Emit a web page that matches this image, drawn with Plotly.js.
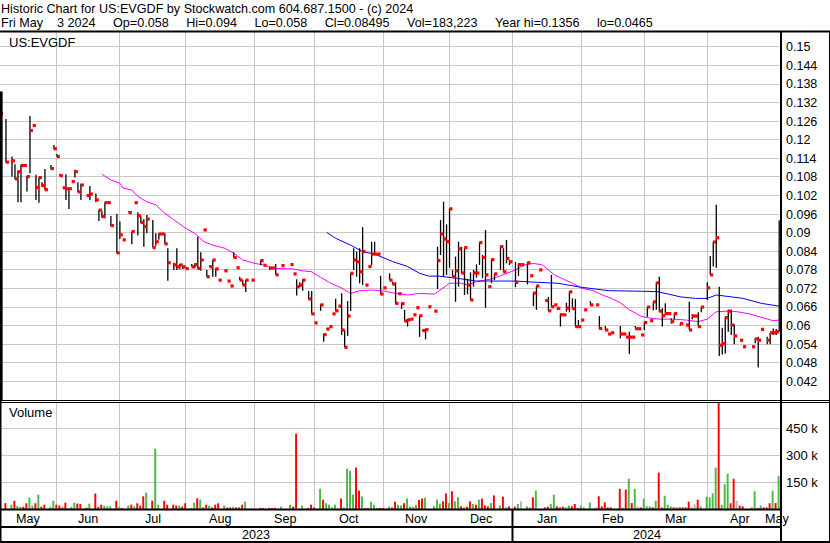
<!DOCTYPE html>
<html><head><meta charset="utf-8">
<script src="https://cdn.plot.ly/plotly-3.0.1.min.js"></script>
<style>html,body{margin:0;padding:0;background:#fff;}#chart{width:830px;height:543px;}</style>
</head><body><div id="chart"></div>
<script>
const _ = null;
const symbol = 'US:EVGDF';
const startDate = '2023-05-05';           // first weekday slot shown
const lastOpen = 0.058;
const monthNames = ['Jan','Feb','Mar','Apr','May','Jun','Jul','Aug','Sep','Oct','Nov','Dec'];
const dayNames = ['Sun','Mon','Tue','Wed','Thu','Fri','Sat'];

// one entry per weekday from startDate (null = no trade)
const high = [
  /* May */ .1356,_,.1267,_,.1146,.1121,.1100,.1119,_,.1083,.1277,_,.1087,.1079,.1063,.1106,_,.1119,.1183,
  /* Jun */ .1154,.1090,_,.1089,.1042,_,.1103,.1063,.1058,_,_,.1051,_,.1027,.0973,.0970,.0998,_,.0954,_,.0961,.0936,
  /* Jul */ _,_,.0970,.0904,_,.0966,.0955,.0944,.0957,_,.0941,.0898,.0898,_,.0898,.0850,_,.0803,.0850,.0799,.0793,
  /* Aug */ _,_,.0799,.0801,.0887,.0837,_,.0780,.0796,.0812,.0785,_,_,.0780,_,_,.0836,_,.0758,.0747,.0747,_,_,
  /* Sep */ _,_,.0812,_,_,.0790,_,.0799,_,_,_,_,_,_,.0750,.0740,.0750,_,.0712,.0712,_,
  /* Oct */ _,.0669,.0573,.0591,_,_,.0687,_,.0705,.0586,.0679,.0769,.0850,.0839,.0850,.0918,_,_,.0871,.0871,_,.0761,
  /* Nov */ _,_,.0769,.0742,.0740,_,.0674,.0651,.0621,_,_,_,.0632,.0588,.0588,_,_,_,.0855,.0941,.1000,.0927,
  /* Dec */ .0979,.0780,.0823,.0871,.0855,.0852,.0751,.0772,.0780,.0798,.0869,.0828,.0909,_,.0815,.0769,_,.0858,.0850,.0877,.0812,
  /* Jan */ _,.0805,.0801,_,_,.0805,_,.0709,.0728,_,_,_,.0693,.0764,_,.0659,.0640,_,.0674,.0712,.0688,.0686,.0618,
  /* Feb */ _,_,_,.0679,_,_,.0631,_,.0599,_,_,_,_,.0599,_,_,.0580,_,.0599,_,_,
  /* Mar */ .0613,.0661,_,.0677,.0740,.0758,.0656,.0672,_,.0624,.0639,_,.0607,_,_,.0677,.0637,_,.0643,.0661,_,
  /* Apr */ .0740,.0825,.0871,.0990,.0726,.0593,.0629,.0651,.0651,.0604,_,_,_,_,_,_,.0559,.0564,_,_,.0564,.0577,
  /* May */ .0591,.0589,.0940
];
const low = [
  /* May */ .1240,_,.1127,_,.1081,.1073,.0998,.0998,_,.1033,.1092,_,.1006,.0997,.1049,.1038,_,.1106,.1170,
  /* Jun */ .1146,.1084,_,.1006,.0977,_,.1078,.1031,.1006,_,_,.1006,_,.0998,.0938,.0949,.0947,_,.0922,_,.0834,.0880,
  /* Jul */ _,_,.0965,.0863,_,.0891,.0931,.0855,.0898,_,.0852,.0858,.0877,_,.0864,.0745,_,.0780,.0780,.0782,.0783,
  /* Aug */ _,_,.0790,.0785,.0784,.0777,_,.0758,.0790,.0758,.0758,_,_,.0777,_,_,.0820,_,.0747,.0731,.0709,_,_,
  /* Sep */ _,_,.0795,_,_,.0780,_,.0764,_,_,_,_,_,_,.0697,.0725,.0713,_,.0685,.0638,_,
  /* Oct */ _,.0648,.0548,.0589,_,_,.0648,_,.0570,.0530,.0567,.0647,.0780,.0758,.0737,.0731,_,_,.0796,.0828,_,.0702,
  /* Nov */ _,_,.0747,.0734,.0669,_,.0654,.0615,.0597,_,_,_,.0564,.0584,.0556,_,_,_,.0718,.0828,.0758,.0764,
  /* Dec */ .0787,.0758,.0677,.0726,.0769,.0699,.0701,.0683,.0726,.0755,.0796,.0753,.0658,_,.0737,.0747,_,.0780,.0774,.0801,.0796,
  /* Jan */ _,.0724,.0760,_,_,.0733,_,.0663,.0651,_,_,_,.0647,.0661,_,.0651,.0597,_,.0645,.0643,.0655,.0597,.0597,
  /* Feb */ _,_,_,.0665,_,_,.0589,_,.0586,_,_,_,_,.0559,_,_,.0508,_,.0590,_,_,
  /* Mar */ .0586,.0629,_,.0650,.0651,.0645,.0597,.0634,_,.0607,.0620,_,.0600,_,_,.0586,.0621,_,.0597,.0643,_,
  /* Apr */ .0683,.0764,.0791,.0787,.0502,.0507,.0510,.0580,.0570,.0540,_,_,_,_,_,_,.0543,.0465,_,_,.0540,.0540,
  /* May */ .0570,.0570,.0580
];
const close = [
  /* May */ .1284,_,.1128,_,.1132,.1074,.1097,.1117,.1117,.1081,.1230,.1246,.1046,.1078,.1052,.1039,_,.1107,.1171,
  /* Jun */ .1146,.1084,.1045,.1042,.1042,.1065,.1097,.1032,.1054,_,.1020,.1025,_,.1006,.0973,.0952,.0997,.0997,.0923,_,.0835,.0893,
  /* Jul */ .0877,_,.0965,.0904,.0997,.0955,.0933,.0920,.0944,_,.0852,.0871,.0896,.0896,.0864,.0803,_,.0796,.0790,.0796,.0790,
  /* Aug */ .0784,_,.0790,.0797,.0785,.0812,.0909,.0758,.0790,.0812,.0783,.0747,_,.0777,.0744,.0728,.0820,.0787,.0747,.0731,.0747,_,.0747,
  /* Sep */ _,_,.0810,.0795,_,.0786,.0786,.0764,_,.0794,_,_,.0797,.0767,.0726,.0731,.0747,_,.0686,.0638,.0609,
  /* Oct */ _,.0667,.0571,.0589,.0597,.0638,.0648,.0663,.0586,.0530,.0631,.0769,.0812,.0806,.0774,.0839,.0731,.0791,.0831,.0831,.0831,.0702,
  /* Nov */ .0722,_,.0747,.0734,.0672,.0703,.0671,.0615,.0619,.0621,.0635,.0658,.0632,.0584,.0587,.0661,_,.0647,.0810,.0896,.0880,.0871,
  /* Dec */ .0977,.0758,.0777,.0848,.0770,.0852,.0731,.0683,.0770,.0770,.0868,.0820,.0764,.0726,.0813,.0767,_,.0855,.0774,.0817,.0806,
  /* Jan */ _,.0740,.0797,.0797,_,.0803,.0761,.0705,.0728,.0780,_,.0681,.0648,.0661,.0667,.0656,.0635,.0635,.0657,.0709,.0655,.0597,.0597,
  /* Feb */ .0618,.0651,_,.0667,_,.0667,.0591,_,.0586,.0573,.0577,_,_,.0573,.0573,.0563,.0563,.0563,.0590,.0590,.0570,
  /* Mar */ .0610,.0660,.0616,.0677,.0738,.0647,.0632,.0639,.0639,.0613,.0639,_,.0607,_,.0602,.0586,.0631,.0631,.0597,.0660,_,
  /* Apr */ .0722,.0764,.0870,.0884,.0537,.0542,.0626,.0647,.0602,.0567,_,.0553,.0532,_,_,.0532,.0557,.0553,.0588,_,.0553,.0577,
  /* May */ .0577,.0580,.08495
];
// volume in thousands of shares
const volumeK = [
  /* May */ _,_,33,_,24,46,17,11,13,32,63,19,32,80,13,24,_,13,46,
  /* Jun */ 24,19,9,35,6,11,35,30,28,_,7,30,_,86,11,24,19,15,15,_,46,13,
  /* Jul */ 6,_,19,24,15,32,19,71,91,_,46,336,24,_,46,24,_,24,19,19,13,
  /* Aug */ 32,_,6,35,60,52,9,24,19,9,24,32,_,19,9,9,13,9,9,24,41,_,6,
  /* Sep */ _,_,6,6,_,6,6,6,_,13,_,_,24,13,420,_,19,_,6,24,9,
  /* Oct */ _,113,52,32,24,9,24,_,58,9,225,214,80,231,102,69,6,6,41,24,6,6,
  /* Nov */ 6,_,13,9,41,24,19,32,58,13,13,24,50,58,63,_,_,15,52,30,43,87,
  /* Dec */ 33,99,43,65,15,9,13,43,28,24,52,58,20,15,33,76,_,20,69,9,15,
  /* Jan */ _,13,28,43,_,15,9,65,102,_,_,9,13,28,80,15,9,13,9,19,15,28,6,
  /* Feb */ 19,9,_,37,_,9,71,15,37,9,9,_,_,113,9,108,169,33,113,15,9,
  /* Mar */ 58,15,15,9,46,203,9,74,24,15,9,9,9,9,9,41,9,26,52,15,_,
  /* Apr */ 69,65,87,230,640,24,138,197,32,169,46,19,15,_,_,9,99,6,19,9,9,32,
  /* May */ 102,33,183.223
];
// volume bar direction: u = up, d = down, n = unchanged
const volumeDir = [
  /* May */ _,_,'d',_,'u','d','u','u','d','d','u','u','d','u','d','d',_,'u','u',
  /* Jun */ 'd','d','d','d','n','u','u','d','d',_,'d','u',_,'d','d','d','u','u','u',_,'d','u',
  /* Jul */ 'd',_,'u','d','u','d','d','d','u',_,'d','u','u',_,'d','d',_,'d','d','u','d',
  /* Aug */ 'd',_,'u','u','d','u','d','d','u','d','d','d',_,'u','d','d','u','d','d','d','u',_,'n',
  /* Sep */ _,_,'d','d',_,'d','d','d',_,'u',_,_,'u','d','d',_,'u',_,'d','d','d',
  /* Oct */ _,'u','d','u','u','u','u',_,'d','u','u','u','u','d','d','u','d','d','u','u','u','d',
  /* Nov */ 'd',_,'u','d','d','u','u','d','u','u','u','u','d','d','u',_,_,'u','u','u','d','d',
  /* Dec */ 'u','d','u','u','d','u','d','d','u','d','u','d','d','d','u','d',_,'u','d','u','d',
  /* Jan */ _,'d','u','n',_,'u','u','d','u',_,_,'d','d','u','u','d','d','d','u','u','d','d','d',
  /* Feb */ 'u','u',_,'u',_,'n','d','d','d','d','d',_,_,'d','n','d','u','d','u','n','d',
  /* Mar */ 'u','u','u','d','u','d','d','u','u','u','d','u','d','d','d','d','u','n','d','u',_,
  /* Apr */ 'u','u','u','u','d','u','u','u','d','d','n','d','d',_,_,'u','u','d','u','d','d','d',
  /* May */ 'u','d','u'
];
// moving averages (weekday slot, value)
const maShortSlot = [34,37,40,41,44,46,49,52,55,58,62,65,68,71,75,78,81,85,88,91,95,98,101,104,107,110,114,117,120,124,128,131,136,140,145,147,150,154,156,159,164,167,170,172,175,178,181,183,185,188,191,194,198,201,204,207,210,214,217,220,225,229,233,236,239,243,246,250,254,258,260];
const maShortVal = [.1089,.1070,.1060,.1044,.1038,.1017,.1000,.0990,.0963,.0941,.0914,.0898,.0871,.0860,.0850,.0834,.0812,.0801,.0796,.0785,.0785,.0783,.0777,.0774,.0756,.0739,.0721,.0704,.0713,.0715,.0712,.0706,.0699,.0704,.0702,.0715,.0737,.0737,.0731,.0742,.0751,.0761,.0772,.0780,.0796,.0801,.0796,.0780,.0764,.0750,.0737,.0721,.0713,.0699,.0688,.0674,.0651,.0630,.0624,.0621,.0621,.0618,.0613,.0621,.0645,.0647,.0645,.0638,.0627,.0616,.0618];
const maLongSlot = [109,112,117,121,125,128,131,136,140,143,146,151,156,159,165,172,179,186,194,200,203,214,219,223,227,232,236,239,244,248,254,260];
const maLongVal = [.0901,.0882,.0860,.0839,.0831,.0819,.0807,.0791,.0769,.0760,.0760,.0755,.0747,.0744,.0744,.0744,.0740,.0737,.0724,.0717,.0713,.0711,.0710,.0702,.0693,.0688,.0688,.0699,.0693,.0688,.0672,.0663];

const priceTickLabels = ['0.15','0.144','0.138','0.132','0.126','0.12','0.114','0.108','0.102','0.096','0.09','0.084','0.078','0.072','0.066','0.06','0.054','0.048','0.042'];
const volumeTickValsK = [150, 300, 450];
const volumeTickLabels = ['150 k','300 k','450 k'];

// ---------- build ----------
const N = close.length;
const dates = [];
{ const d = new Date(startDate + 'T00:00:00Z');
  while (dates.length < N) { const wd = d.getUTCDay(); if (wd !== 0 && wd !== 6) dates.push(new Date(d)); d.setUTCDate(d.getUTCDate() + 1); } }

const W = 830, H = 543;
const fx = p => p / W, fy = p => 1 - p / H;
const FONT = "'Liberation Sans', Arial, sans-serif";
const xRange = [0, N - 0.4];
const priceRange = [0.0360, 0.1548];
const volRange = [0, 591000];
const grid = '#c8c8c8';

// bar segments
const segX = [], segY = [];
for (let i = 0; i < N; i++) if (high[i] != null && low[i] != null) { segX.push(i, i, null); segY.push(high[i], low[i], null); }
const cX = [], cY = [];
for (let i = 0; i < N; i++) if (close[i] != null) { cX.push(i + 0.45); cY.push(close[i]); }
const vX = [], vY = [], vC = [];
const dirColor = {u: '#4cb848', d: '#ff0000', n: '#b4b4b4'};
for (let i = 0; i < N; i++) if (volumeK[i] != null) { vX.push(i); vY.push(Math.round(volumeK[i] * 1000)); vC.push(dirColor[volumeDir[i]] || '#b4b4b4'); }

// month boundaries (1st of month mapped to last weekday on/before it)
const monthBounds = [];
{ const f = dates[0], l = dates[N - 1];
  let y = f.getUTCFullYear(), m = f.getUTCMonth() + 1;
  while (true) {
    if (m > 11) { m = 0; y++; }
    const ms = Date.UTC(y, m, 1);
    if (ms > l.getTime()) break;
    let idx = -1; for (let i = 0; i < N; i++) if (dates[i].getTime() <= ms) idx = i;
    monthBounds.push({idx, month: m, year: y});
    m++;
  } }
const gridVals = monthBounds.filter(b => b.idx < N - 4).map(b => b.idx);
const labelAnn = [];
{ const edges = [xRange[0], ...monthBounds.map(b => b.idx), xRange[1]];
  const names = [monthNames[dates[0].getUTCMonth()], ...monthBounds.map(b => monthNames[b.month])];
  for (let k = 0; k < names.length; k++) labelAnn.push({text: names[k], xref: 'x2', yref: 'paper', x: (edges[k] + edges[k + 1]) / 2, y: fy(518.5), xanchor: 'center', yanchor: 'middle', showarrow: false, font: {family: FONT, size: 12.6, color: '#000'}});
  const jan = monthBounds.find(b => b.month === 0);
  const yEdges = [xRange[0], jan.idx, xRange[1]];
  const years = [dates[0].getUTCFullYear(), jan.year];
  for (let k = 0; k < 2; k++) labelAnn.push({text: String(years[k]), xref: 'x2', yref: 'paper', x: (yEdges[k] + yEdges[k + 1]) / 2, y: fy(535), xanchor: 'center', yanchor: 'middle', showarrow: false, font: {family: FONT, size: 12.6, color: '#000'}});
}
const janIdx = monthBounds.find(b => b.month === 0).idx;

const yearHigh = Math.max(...high.filter(v => v != null));
const yearLow = Math.min(...low.filter(v => v != null));
const ld = dates[N - 1];
const S = '\u00a0';
const G = S + S + S + S + S;   // field separator
const title1 = `Historic Chart for ${symbol} by Stockwatch.com 604.687.1500 - (c) ${ld.getUTCFullYear()}`;
const dayStr = String(ld.getUTCDate()).padStart(2, S);
const title2 = `${dayNames[ld.getUTCDay()]} ${monthNames[ld.getUTCMonth()]}${S}${S}${S}${dayStr} ${ld.getUTCFullYear()}${G}Op=${lastOpen}${G}Hi=${high[N-1]}${G}Lo=${low[N-1]}${G}Cl=${close[N-1]}${G}Vol=${Math.round(volumeK[N-1]*1000).toLocaleString('en-US')}${G}Year hi=${yearHigh}${G}lo=${yearLow}`;

const traces = [
  {type: 'scatter', mode: 'lines', x: maShortSlot, y: maShortVal, xaxis: 'x', yaxis: 'y', line: {color: '#ff00ff', width: 1}, hoverinfo: 'skip'},
  {type: 'scatter', mode: 'lines', x: maLongSlot, y: maLongVal, xaxis: 'x', yaxis: 'y', line: {color: '#0000ff', width: 1}, hoverinfo: 'skip'},
  {type: 'scatter', mode: 'lines', x: segX, y: segY, xaxis: 'x', yaxis: 'y', line: {color: '#000', width: 1.3}, connectgaps: false, hoverinfo: 'skip'},
  {type: 'scatter', mode: 'markers', x: cX, y: cY, xaxis: 'x', yaxis: 'y', marker: {symbol: 'square', size: 3.2, color: '#ff0000', line: {width: 0}}, hoverinfo: 'skip'},
  {type: 'bar', x: vX, y: vY, xaxis: 'x2', yaxis: 'y2', width: 0.65, offset: -0.525, marker: {color: vC, line: {width: 0}}, hoverinfo: 'skip'}
];

const tf = {family: FONT, size: 12.5, color: '#000'};
const layout = {
  width: W, height: H, margin: {l: 0, r: 0, t: 0, b: 0, pad: 0},
  paper_bgcolor: '#fff', plot_bgcolor: '#fff', showlegend: false, hovermode: false,
  xaxis: {domain: [0, fx(781)], range: xRange, anchor: 'y', tickmode: 'array', tickvals: gridVals, showticklabels: false, ticks: '', showgrid: true, gridcolor: grid, gridwidth: 1, zeroline: false, showline: false, fixedrange: true},
  xaxis2: {domain: [0, fx(781)], range: xRange, anchor: 'y2', matches: 'x', tickmode: 'array', tickvals: gridVals, showticklabels: false, ticks: '', showgrid: true, gridcolor: grid, gridwidth: 1, zeroline: false, showline: false, fixedrange: true},
  yaxis: {domain: [fy(400), fy(32)], range: priceRange, anchor: 'x', side: 'right', tickmode: 'array', tickvals: priceTickLabels.map(Number), ticktext: priceTickLabels, tickfont: tf, ticks: '', ticklabelstandoff: 4, showgrid: true, gridcolor: grid, gridwidth: 1, zeroline: false, showline: false, fixedrange: true},
  yaxis2: {domain: [fy(509), fy(403)], range: volRange, anchor: 'x2', side: 'right', tickmode: 'array', tickvals: volumeTickValsK.map(v => v * 1000), ticktext: volumeTickLabels, tickfont: {family: FONT, size: 13, color: '#000'}, ticks: '', ticklabelstandoff: 4, showgrid: true, gridcolor: grid, gridwidth: 1, zeroline: false, showline: false, fixedrange: true},
  shapes: [
    {type: 'line', xref: 'paper', yref: 'paper', x0: 0, x1: 1, y0: fy(31.5), y1: fy(31.5), line: {color: '#000', width: 2}},
    {type: 'line', xref: 'paper', yref: 'paper', x0: 0, x1: 1, y0: fy(400.5), y1: fy(400.5), line: {color: '#000', width: 1}},
    {type: 'line', xref: 'paper', yref: 'paper', x0: 0, x1: 1, y0: fy(402.5), y1: fy(402.5), line: {color: '#000', width: 1}},
    {type: 'line', xref: 'paper', yref: 'paper', x0: fx(781), x1: fx(781), y0: fy(31), y1: fy(543), line: {color: '#000', width: 2}},
    {type: 'line', xref: 'paper', yref: 'paper', x0: fx(829.5), x1: fx(829.5), y0: fy(31), y1: fy(543), line: {color: '#000', width: 1}},
    {type: 'line', xref: 'paper', yref: 'paper', x0: 0, x1: fx(781), y0: fy(509.5), y1: fy(509.5), line: {color: '#000', width: 2}},
    {type: 'line', xref: 'paper', yref: 'paper', x0: 0, x1: fx(781), y0: fy(527), y1: fy(527), line: {color: '#000', width: 2}},
    {type: 'line', xref: 'paper', yref: 'paper', x0: 0, x1: 1, y0: fy(542), y1: fy(542), line: {color: '#000', width: 2}},
    {type: 'line', xref: 'x2', yref: 'paper', x0: janIdx, x1: janIdx, y0: fy(509), y1: fy(543), line: {color: '#000', width: 2}},
    {type: 'line', xref: 'paper', yref: 'paper', x0: fx(0.75), x1: fx(0.75), y0: fy(400), y1: fy(543), line: {color: '#000', width: 1.5}},
    {type: 'line', xref: 'paper', yref: 'y', x0: fx(1.3), x1: fx(1.3), y0: yearHigh, y1: priceRange[0], line: {color: '#000', width: 2.7}}
  ],
  annotations: [
    {text: title1, xref: 'paper', yref: 'paper', x: fx(-1), y: fy(8.7), xanchor: 'left', yanchor: 'middle', showarrow: false, font: {family: FONT, size: 12.6, color: '#000'}},
    {text: title2, xref: 'paper', yref: 'paper', x: fx(-1), y: fy(23.2), xanchor: 'left', yanchor: 'middle', showarrow: false, font: {family: FONT, size: 12.6, color: '#000'}},
    {text: symbol, xref: 'paper', yref: 'paper', x: fx(7.3), y: fy(42), xanchor: 'left', yanchor: 'middle', showarrow: false, font: {family: FONT, size: 13, color: '#000'}},
    {text: 'Volume', xref: 'paper', yref: 'paper', x: fx(7.3), y: fy(413), xanchor: 'left', yanchor: 'middle', showarrow: false, font: {family: FONT, size: 13, color: '#000'}},
    ...labelAnn
  ]
};
Plotly.newPlot('chart', traces, layout, {displayModeBar: false, staticPlot: true});
</script>
</body></html>
